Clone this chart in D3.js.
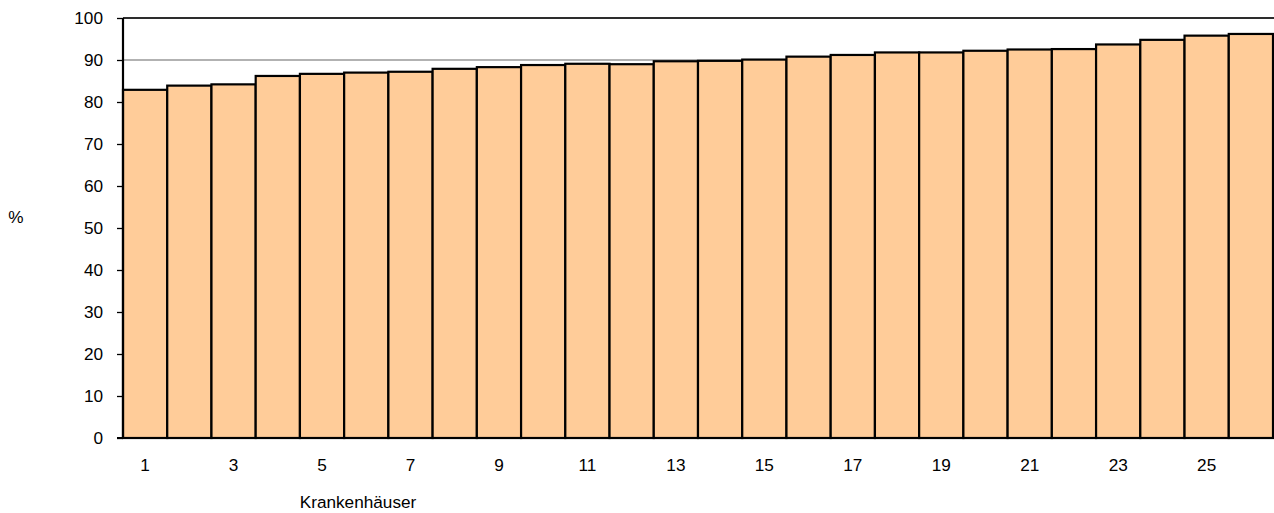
<!DOCTYPE html>
<html><head><meta charset="utf-8">
<script src="https://cdn.jsdelivr.net/npm/d3@7"></script>
<style>body{margin:0;background:#fff}svg{display:block;font-family:"Liberation Sans",Arial,sans-serif}</style>
</head><body><svg id="c" width="1274" height="513"></svg>
<script>
const categories = d3.range(1, 27).map(String);
const values = [82.9, 83.9, 84.2, 86.2, 86.7, 87.0, 87.2, 87.9, 88.3, 88.8, 89.1, 89.0, 89.7, 89.8, 90.1, 90.8, 91.2, 91.8, 91.8, 92.2, 92.5, 92.6, 93.7, 94.8, 95.8, 96.2];
const yTicks = [0, 10, 20, 30, 40, 50, 60, 70, 80, 90, 100];
const xTickLabels = categories.filter((d, i) => i % 2 === 0);

const svg = d3.select("#c");
const L = 123, R = 1273, T = 18, B = 438;
const FS = 17.2;
const x = d3.scaleBand().domain(categories).range([L, R]).padding(0);
const y = d3.scaleLinear().domain([0, 100]).range([B, T]);

// gridlines
svg.append("g").selectAll("line").data(yTicks.filter(d => d > 0)).join("line")
  .attr("x1", L).attr("x2", 1274).attr("y1", d => y(d)).attr("y2", d => y(d))
  .attr("stroke", "#999").attr("stroke-width", 1.3);
// top border
svg.append("line").attr("x1", L).attr("x2", 1274).attr("y1", y(100)).attr("y2", y(100))
  .attr("stroke", "#000").attr("stroke-width", 1.3);

// bars
svg.append("g").selectAll("rect").data(values).join("rect")
  .attr("x", (d, i) => x(categories[i]))
  .attr("y", d => y(d))
  .attr("width", x.bandwidth())
  .attr("height", d => y(0) - y(d))
  .attr("fill", "#FFCC99").attr("stroke", "#000").attr("stroke-width", 2.2);

// y axis
const ya = svg.append("g").attr("transform", `translate(${L},0)`)
  .call(d3.axisLeft(y).tickValues(yTicks).tickSize(6).tickPadding(14));
ya.select(".domain").attr("stroke", "#000").attr("stroke-width", 2.2).attr("d", `M0,${B}V${T}`);
ya.selectAll(".tick line").attr("stroke", "#000").attr("stroke-width", 1.3);
ya.selectAll(".tick text").attr("font-size", FS).attr("fill", "#000").attr("font-family", "Liberation Sans, Arial, sans-serif");

// x axis
const xa = svg.append("g").attr("transform", `translate(0,${B})`)
  .call(d3.axisBottom(x).tickValues(xTickLabels).tickSize(0).tickPadding(21));
xa.select(".domain").attr("stroke", "#000").attr("stroke-width", 2.2).attr("d", `M${L - 6},0H1274`);
xa.selectAll(".tick text").attr("font-size", FS).attr("fill", "#000").attr("font-family", "Liberation Sans, Arial, sans-serif");

svg.append("text").attr("x", 16).attr("y", 223).attr("text-anchor", "middle")
  .attr("font-size", FS).text("%");
svg.append("text").attr("x", 358).attr("y", 508).attr("text-anchor", "middle")
  .attr("font-size", FS).text("Krankenhäuser");
</script></body></html>
